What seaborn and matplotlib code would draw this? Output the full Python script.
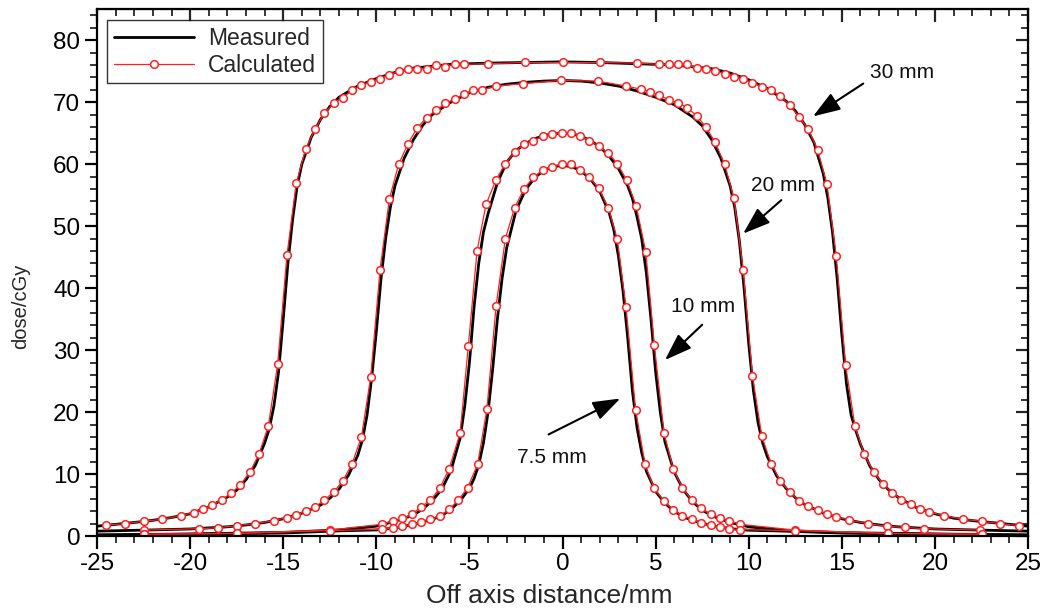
import matplotlib
matplotlib.use("Agg")
import matplotlib.pyplot as plt
import seaborn as sns
from matplotlib.ticker import MultipleLocator

# ---- calculated points (red circles) ----
calc30_x = [-24.5, -23.5, -22.5, -21.5, -20.5, -19.8, -19.3, -18.8, -18.3, -17.8, -17.3, -16.8, -16.3,
            -15.8, -15.3, -14.8, -14.3, -13.8, -13.3, -12.8, -12.3, -11.8, -11.3, -10.8, -10.3, -9.8,
            -9.3, -8.8, -8.3, -7.8, -7.3, -6.8, -6.3, -5.8, -5.3, -4.0, -2.0, 0.0, 2.0, 4.0, 5.2, 5.7,
            6.2, 6.7, 7.2, 7.7, 8.2, 8.7, 9.2, 9.7, 10.2, 10.7, 11.2, 11.7, 12.2, 12.7, 13.2, 13.7, 14.2,
            14.7, 15.2, 15.7, 16.2, 16.7, 17.2, 17.7, 18.2, 18.7, 19.2, 19.7, 20.5, 21.5, 22.5, 23.5, 24.5]
calc30_y = [1.8, 2.0, 2.4, 2.7, 3.3, 3.8, 4.35, 5.0, 5.9, 6.9, 8.3, 10.3, 13.2,
            17.8, 27.7, 45.3, 56.9, 62.4, 65.6, 68.2, 69.8, 70.7, 71.9, 72.7, 73.3, 73.8,
            74.4, 75.0, 75.3, 75.4, 75.3, 76.0, 75.7, 76.1, 76.1, 76.2, 76.4, 76.4, 76.4, 76.3, 76.1, 76.1,
            76.1, 76.1, 75.5, 75.3, 75.0, 74.6, 74.1, 73.7, 73.1, 72.5, 71.9, 71.0, 69.6, 67.6, 65.6, 62.3, 56.8,
            45.2, 27.6, 17.8, 13.2, 10.4, 8.4, 7.0, 5.9, 5.1, 4.4, 3.9, 3.3, 2.7, 2.4, 2.0, 1.7]

calc20_x = [-22.5, -19.5, -18.5, -17.5, -16.5, -15.5, -14.8, -14.3, -13.8, -13.3, -12.8, -12.3, -11.8,
            -11.3, -10.8, -10.3, -9.8, -9.3, -8.8, -8.3, -7.8, -7.3, -6.8, -6.3, -5.8, -5.3, -4.8, -4.3,
            -3.6, -2.1, -0.1, 1.9, 3.4, 4.2, 4.7, 5.2, 5.7, 6.2, 6.7, 7.2, 7.7, 8.2, 8.7, 9.2, 9.7, 10.2,
            10.7, 11.2, 11.7, 12.2, 12.7, 13.2, 13.7, 14.2, 14.7, 15.4, 16.4, 17.4, 18.4, 19.4, 22.4]
calc20_y = [0.97, 1.2, 1.35, 1.7, 2.0, 2.5, 3.0, 3.4, 4.1, 4.7, 5.8, 7.1, 8.9,
            11.7, 16.0, 25.7, 43.0, 54.4, 60.0, 63.3, 65.9, 67.5, 68.7, 69.8, 70.5, 71.3, 71.9, 72.0,
            72.6, 73.0, 73.5, 73.4, 72.6, 72.1, 71.7, 71.1, 70.4, 69.9, 69.1, 67.8, 66.0, 63.5, 60.0, 54.6, 43.0, 25.9,
            16.1, 11.7, 8.9, 7.1, 5.7, 4.8, 4.2, 3.5, 3.1, 2.6, 2.0, 1.6, 1.4, 1.2, 0.97]

calc10_x = [-22.5, -17.5, -12.5, -9.7, -9.1, -8.6, -8.1, -7.6, -7.1, -6.6, -6.1, -5.5, -5.06, -4.59,
            -4.11, -3.57, -3.09, -2.55, -2.07, -1.57, -1.07, -0.56, -0.04, 0.46, 0.94, 1.44, 1.94, 2.46,
            2.94, 3.45, 3.95, 4.47, 4.93, 5.45, 5.95, 6.43, 6.94, 7.44, 7.96, 8.46, 8.96, 9.53, 12.5, 17.5, 22.5]
calc10_y = [0.3, 0.43, 0.97, 1.9, 2.5, 2.85, 3.5, 4.7, 5.8, 7.7, 10.8, 16.6, 30.7, 46.0,
            53.5, 57.5, 60.0, 62.0, 63.2, 63.8, 64.5, 64.9, 65.1, 65.1, 64.6, 63.8, 62.9, 61.8,
            60.1, 57.4, 53.3, 45.9, 30.8, 16.6, 10.8, 7.8, 5.8, 4.5, 3.5, 3.0, 2.5, 1.9, 0.97, 0.43, 0.3]

calc75_x = [-22.5, -17.5, -12.5, -9.7, -9.1, -8.6, -8.1, -7.6, -7.1, -6.6, -6.1, -5.6, -5.1, -4.56,
            -4.06, -3.57, -3.07, -2.57, -2.07, -1.57, -1.07, -0.56, -0.04, 0.46, 0.96, 1.44, 1.94, 2.46,
            2.94, 3.41, 3.92, 4.43, 4.9, 5.45, 5.95, 6.43, 6.94, 7.44, 7.96, 8.46, 8.96, 9.53, 12.5, 17.5, 22.5]
calc75_y = [0.3, 0.43, 0.9, 1.1, 1.35, 1.6, 1.9, 2.3, 2.7, 3.2, 4.3, 5.8, 7.8, 11.6,
            20.5, 37.1, 48.0, 53.0, 56.0, 57.9, 59.0, 59.6, 60.0, 60.0, 59.1, 57.9, 56.1, 53.0,
            47.9, 36.9, 20.4, 11.6, 7.8, 5.6, 4.2, 3.3, 2.7, 2.1, 1.8, 1.5, 1.2, 1.05, 0.9, 0.43, 0.3]

# ---- measured profiles (black lines) ----
meas30_x = [-25, -24, -23, -22, -21, -20, -19, -18, -17.5, -17, -16.5, -16, -15.75, -15.5, -15.25, -15,
            -14.75, -14.5, -14.25, -14, -13.5, -13, -12.5, -12, -11, -10, -9, -8, -6, -4, -2, 0, 2, 4, 6,
            8, 9, 10, 11, 12, 12.5, 13, 13.5, 14, 14.25, 14.5, 14.75, 15, 15.25, 15.5, 15.75, 16, 16.5,
            17, 17.5, 18, 19, 20, 21, 22, 23, 24, 25]
meas30_y = [1.6, 1.9, 2.2, 2.55, 3.0, 3.6, 4.7, 6.3, 7.4, 9.1, 11.4, 15.0, 17.3, 21.0, 26.5, 35.0,
            44.0, 51.0, 56.5, 60.0, 64.3, 67.2, 69.3, 70.8, 72.6, 73.8, 74.8, 75.5, 76.1, 76.3, 76.4, 76.5, 76.4, 76.2, 76.0,
            75.4, 74.7, 73.6, 72.2, 70.2, 68.6, 66.4, 63.5, 58.5, 54.5, 49.0, 41.5, 32.5, 24.5, 19.5, 17.0, 14.8, 11.3,
            9.1, 7.5, 6.3, 4.6, 3.6, 2.9, 2.5, 2.2, 1.9, 1.6]

meas20_x = [-25, -22, -20, -18, -17, -16, -15, -14, -13, -12.5, -12, -11.5, -11, -10.75, -10.5, -10.25,
            -10, -9.75, -9.5, -9.25, -9, -8.5, -8, -7.5, -7, -6, -5, -4, -3, -2, -1, 0, 1, 2, 3, 4, 5, 6,
            7, 7.5, 8, 8.5, 9, 9.25, 9.5, 9.75, 10, 10.25, 10.5, 10.75, 11, 11.5, 12, 12.5, 13, 14, 15,
            16, 17, 18, 20, 22, 25]
meas20_y = [0.8, 1.0, 1.15, 1.5, 1.8, 2.2, 2.8, 3.7, 5.0, 6.1, 7.6, 9.8, 13.0, 15.5, 19.5, 25.5,
            33.0, 41.5, 48.0, 53.0, 56.5, 61.0, 64.0, 66.3, 68.0, 70.0, 71.5, 72.4, 72.9, 73.2, 73.4, 73.5, 73.4, 73.1, 72.6, 71.8, 70.8, 69.6,
            67.6, 66.2, 64.0, 61.0, 56.5, 53.0, 47.5, 40.0, 31.0, 23.5, 18.3, 15.0, 12.8, 9.7, 7.7, 6.2, 5.1, 3.7, 2.8,
            2.2, 1.8, 1.5, 1.15, 1.0, 0.8]

meas10_x = [-25, -20, -15, -12, -10, -9, -8, -7.5, -7, -6.5, -6, -5.5, -5.25, -5, -4.75, -4.5, -4.25,
            -4, -3.5, -3, -2.5, -2, -1.5, -1, -0.5, 0, 0.5, 1, 1.5, 2, 2.5, 3, 3.5, 3.75, 4, 4.25, 4.5,
            4.75, 5, 5.25, 5.5, 6, 6.5, 7, 7.5, 8, 9, 10, 12, 15, 20, 25]
meas10_y = [0.2, 0.35, 0.6, 1.0, 1.6, 2.4, 3.4, 4.4, 5.7, 7.5, 10.5, 15.8, 21.0, 28.0, 37.0, 44.0, 49.0,
            52.0, 57.0, 60.3, 62.2, 63.3, 64.1, 64.6, 64.9, 65.0, 64.9, 64.5, 63.8, 62.8, 61.3, 59.3, 56.5, 54.5, 51.5, 48.0, 42.5,
            35.0, 26.5, 20.0, 15.2, 10.3, 7.4, 5.5, 4.2, 3.3, 2.2, 1.5, 0.9, 0.55, 0.35, 0.2]

meas75_x = [-25, -20, -15, -12, -10, -9, -8, -7, -6.5, -6, -5.5, -5, -4.75, -4.5, -4.25, -4, -3.75,
            -3.5, -3.25, -3, -2.5, -2, -1.5, -1, -0.5, 0, 0.5, 1, 1.5, 2, 2.5, 2.75, 3, 3.25, 3.5, 3.75,
            4, 4.25, 4.5, 5, 5.5, 6, 6.5, 7, 8, 9, 10, 12, 15, 20, 25]
meas75_y = [0.15, 0.3, 0.5, 0.85, 1.0, 1.3, 1.9, 2.7, 3.3, 4.3, 5.7, 7.7, 9.3, 11.5, 15.0, 20.0, 27.0,
            35.0, 41.5, 46.5, 52.5, 55.8, 57.8, 59.0, 59.6, 59.8, 59.6, 58.9, 57.6, 55.6, 52.2, 49.5, 45.2, 39.5, 32.0, 23.5,
            17.5, 13.5, 10.5, 7.2, 5.3, 4.0, 3.1, 2.5, 1.7, 1.2, 0.95, 0.8, 0.5, 0.3, 0.15]

# annotation labels: (text, text position, arrow start, arrow tip)
labels = ["30 mm", "20 mm", "10 mm", "7.5 mm"]
label_xy = [(16.5, 74.8), (10.1, 56.5), (5.8, 37.0), (-2.45, 12.7)]
arrow_start = [(16.15, 73.0), (11.75, 54.2), (7.5, 34.1), (-0.75, 16.4)]
arrow_tip = [(13.45, 67.7), (9.7, 48.8), (5.5, 28.4), (3.1, 22.2)]

sns.set_style("ticks")
plt.rcParams["font.family"] = ["Liberation Sans", "DejaVu Sans"]
plt.rcParams["axes.unicode_minus"] = False

fig = plt.figure(figsize=(10.5, 6.12), dpi=100)
ax = fig.add_axes([0.0924, 0.124, 0.8867, 0.861])

measured = [(meas30_x, meas30_y), (meas20_x, meas20_y), (meas10_x, meas10_y), (meas75_x, meas75_y)]
calculated = [(calc30_x, calc30_y), (calc20_x, calc20_y), (calc10_x, calc10_y), (calc75_x, calc75_y)]

for idx, (mx, my) in enumerate(measured):
    sns.lineplot(x=mx, y=my, ax=ax, color="black", linewidth=2.0, estimator=None,
                 label="Measured" if idx == 0 else None, legend=False)

for idx, (cx, cy) in enumerate(calculated):
    sns.lineplot(x=cx, y=cy, ax=ax, color="#ff2020", linewidth=0.9, estimator=None,
                 marker="o", markersize=5.5, markerfacecolor="white", markeredgecolor="#ff2020",
                 markeredgewidth=1.1, label="Calculated" if idx == 0 else None, legend=False)

for text, txy, s, t in zip(labels, label_xy, arrow_start, arrow_tip):
    ax.text(txy[0], txy[1], text, fontsize=15, va="center", ha="left", color="#111111")
    ax.annotate("", xy=t, xytext=s,
                arrowprops=dict(arrowstyle="-|>,head_length=0.4,head_width=0.14", color="black",
                                lw=1.5, mutation_scale=42, shrinkA=0, shrinkB=0))

ax.set_xlim(-25, 25)
ax.set_ylim(0, 85)
ax.xaxis.set_major_locator(MultipleLocator(5))
ax.xaxis.set_minor_locator(MultipleLocator(1))
ax.yaxis.set_major_locator(MultipleLocator(10))
ax.yaxis.set_minor_locator(MultipleLocator(2))
ax.tick_params(which="major", direction="out", length=9, width=1.6, labelsize=17.5,
               colors="black", pad=3)
ax.tick_params(which="minor", direction="out", length=5, width=1.3)

for side in ax.spines.values():
    side.set_linewidth(1.6)
    side.set_color("black")

# inward ticks on top and right
top = ax.secondary_xaxis("top")
top.xaxis.set_major_locator(MultipleLocator(5))
top.xaxis.set_minor_locator(MultipleLocator(1))
top.tick_params(which="major", direction="in", length=9, width=1.6, labeltop=False)
top.tick_params(which="minor", direction="in", length=5, width=1.3)
right = ax.secondary_yaxis("right")
right.yaxis.set_major_locator(MultipleLocator(10))
right.yaxis.set_minor_locator(MultipleLocator(2))
right.tick_params(which="major", direction="in", length=9, width=1.6, labelright=False)
right.tick_params(which="minor", direction="in", length=5, width=1.3)

ax.set_xlabel("Off axis distance/mm", fontsize=19)
ax.xaxis.set_label_coords(0.4855, -0.091)
ax.set_ylabel("dose/cGy", fontsize=14.5)
ax.yaxis.set_label_coords(-0.072, 0.436)

leg = ax.legend(loc="upper left", bbox_to_anchor=(0.0107, 0.979), fontsize=16.5, frameon=True,
                fancybox=False, borderaxespad=0, handlelength=3.5, borderpad=0.3,
                labelspacing=0.15, handletextpad=0.6)
leg.get_frame().set_edgecolor("black")
leg.get_frame().set_linewidth(1.0)

fig.savefig("out.png", dpi=100)
